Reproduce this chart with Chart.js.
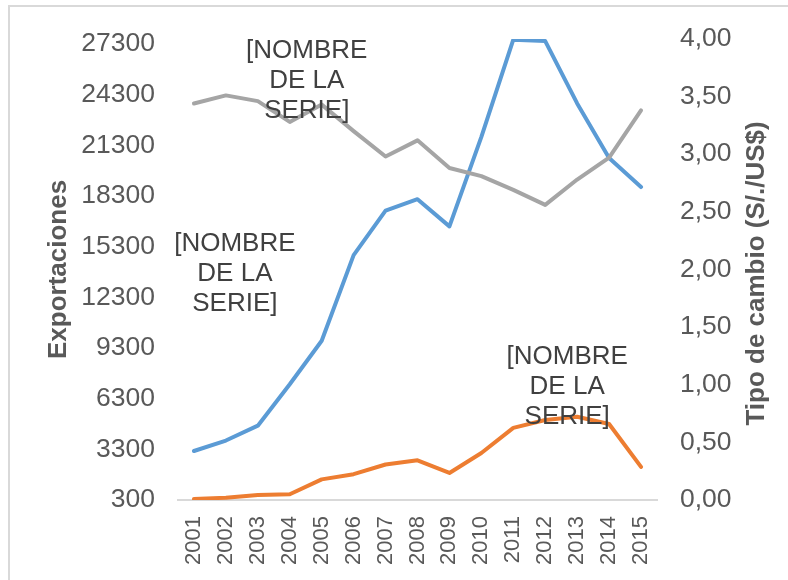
<!DOCTYPE html>
<html>
<head>
<meta charset="utf-8">
<script src="https://cdn.jsdelivr.net/npm/chart.js@4.4.0/dist/chart.umd.min.js"></script>
<style>
  html, body { margin: 0; padding: 0; background: #fff; overflow: hidden; }
  #wrap { position: relative; width: 788px; height: 580px; }
  #frame { position: absolute; left: 8px; top: 5px; width: 800px; height: 600px;
           border: 2px solid #d9d9d9; box-sizing: border-box; }
  canvas { position: absolute; left: 0; top: 0; }
</style>
</head>
<body>
<div id="wrap">
  <div id="frame"></div>
  <canvas id="chart" width="788" height="580"></canvas>
</div>
<script>
// data
const years = ['2001', '2002', '2003', '2004', '2005', '2006', '2007', '2008',
               '2009', '2010', '2011', '2012', '2013', '2014', '2015'];
const exportsBlue = [3200, 3820, 4700, 7150, 9730, 14800, 17430, 18110,
                     16500, 21800, 27550, 27470, 23780, 20550, 18830];
const exportsOrange = [360, 440, 590, 640, 1520, 1830, 2400, 2650,
                       1900, 3080, 4570, 5040, 5230, 4800, 2260];
const exchangeRate = [3.44, 3.51, 3.46, 3.28, 3.43, 3.20, 2.98, 3.12,
                      2.88, 2.81, 2.69, 2.56, 2.78, 2.97, 3.38];
const leftTicks = [300, 3300, 6300, 9300, 12300, 15300, 18300, 21300, 24300, 27300];
const rightTicks = [0, 0.5, 1, 1.5, 2, 2.5, 3, 3.5, 4];
const seriesName = ['[NOMBRE', 'DE LA', 'SERIE]'];

const FONT = '"Liberation Sans", Arial, sans-serif';
const GREY_TEXT = '#595959';
Chart.defaults.font.family = FONT;

/**
 * Draws the dragged Excel style data labels, anchored to one point of a dataset
 */
const seriesNameLabels = {
    id: 'seriesNameLabels',
    afterDatasetsDraw(chart, args, opts) {
        const ctx = chart.ctx;
        ctx.save();
        ctx.font = '26px ' + FONT;
        ctx.fillStyle = '#404040';
        ctx.textAlign = 'center';
        ctx.textBaseline = 'middle';
        opts.items.forEach(item => {
            const pt = chart.getDatasetMeta(item.dataset).data[item.index];
            const cx = pt.x + item.dx;
            const cy = pt.y + item.dy;
            seriesName.forEach((line, i) => ctx.fillText(line, cx, cy + (i - 1) * 30));
        });
        ctx.restore();
    }
};

// right title reads bottom-to-top like in Excel
const rightAxisTitle = {
    id: 'rightAxisTitle',
    afterDraw(chart) {
        const ctx = chart.ctx;
        const area = chart.chartArea;
        ctx.save();
        ctx.translate(757, (area.top + area.bottom) / 2 + 4);
        ctx.rotate(-Math.PI / 2);
        ctx.font = 'bold 26px ' + FONT;
        ctx.fillStyle = GREY_TEXT;
        ctx.textAlign = 'center';
        ctx.textBaseline = 'middle';
        ctx.fillText('Tipo de cambio (S/./US$)', 0, 0);
        ctx.restore();
    }
};

const lineStyle = {
    borderWidth: 4,
    pointRadius: 0,
    pointHoverRadius: 0,
    tension: 0,
    borderJoinStyle: 'round',
    borderCapStyle: 'round',
    fill: false
};

new Chart(document.getElementById('chart'), {
    type: 'line',
    data: {
        labels: years,
        datasets: [
            Object.assign({ label: 'Tipo de cambio', data: exchangeRate, borderColor: '#a5a5a5', yAxisID: 'y1' }, lineStyle),
            Object.assign({ label: 'Exportaciones', data: exportsBlue, borderColor: '#5b9bd5', yAxisID: 'y' }, lineStyle),
            Object.assign({ label: 'Exportaciones 2', data: exportsOrange, borderColor: '#ed7d31', yAxisID: 'y' }, lineStyle)
        ]
    },
    options: {
        responsive: false,
        animation: false,
        layout: { padding: { top: 35, left: 0, right: 0, bottom: 0 } },
        scales: {
            x: {
                offset: true,
                grid: { display: false, drawTicks: false },
                border: { display: true, color: '#d9d9d9', width: 2 },
                ticks: {
                    autoSkip: false,
                    minRotation: 90,
                    maxRotation: 90,
                    padding: 16,
                    color: GREY_TEXT,
                    font: { size: 22 }
                },
                afterFit(scale) { scale.height = 80; }
            },
            y: {
                position: 'left',
                min: 300,
                max: 27600,
                grid: { display: false, drawTicks: false },
                border: { display: false },
                afterBuildTicks(scale) {
                    scale.ticks = leftTicks.map(v => ({ value: v }));
                },
                ticks: {
                    padding: 23,
                    color: GREY_TEXT,
                    font: { size: 26.5 },
                    callback: v => String(v)
                },
                title: {
                    display: true,
                    text: 'Exportaciones',
                    color: GREY_TEXT,
                    font: { size: 26, weight: 'bold' },
                    padding: { top: 43, bottom: 0 }
                },
                afterFit(scale) { scale.width = 178; }
            },
            y1: {
                position: 'right',
                min: 0,
                max: 4,
                grid: { display: false, drawTicks: false },
                border: { display: false },
                afterBuildTicks(scale) {
                    scale.ticks = rightTicks.map(v => ({ value: v }));
                },
                ticks: {
                    padding: 23,
                    color: GREY_TEXT,
                    font: { size: 26.5 },
                    callback: v => v.toFixed(2).replace('.', ',')
                },
                afterFit(scale) { scale.width = 131; }
            }
        },
        plugins: {
            legend: { display: false },
            tooltip: { enabled: false },
            seriesNameLabels: {
                items: [
                    { dataset: 0, index: 3, dx: 17, dy: -41 },
                    { dataset: 1, index: 1, dx: 9, dy: -167 },
                    { dataset: 2, index: 12, dx: -10, dy: -30 }
                ]
            }
        }
    },
    plugins: [seriesNameLabels, rightAxisTitle]
});
</script>
</body>
</html>
